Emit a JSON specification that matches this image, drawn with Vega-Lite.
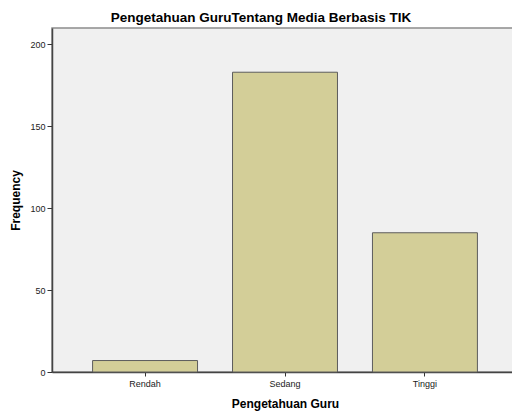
{
  "$schema": "https://vega.github.io/schema/vega-lite/v6.json",
  "autosize": {"type": "none"},
  "padding": {"left": 52, "top": 28, "right": 0, "bottom": 42},
  "width": 466,
  "height": 344,
  "background": "white",
  "title": {
    "text": "Pengetahuan GuruTentang Media Berbasis TIK",
    "font": "Liberation Sans",
    "fontSize": 13.5,
    "fontWeight": "bold",
    "color": "#000000",
    "anchor": "middle",
    "dx": -24,
    "offset": 4
  },
  "config": {
    "view": {"fill": "#f0f0f0", "stroke": "#8c8c8c", "strokeWidth": 1.5},
    "axis": {"labelFont": "Liberation Sans", "titleFont": "Liberation Sans", "grid": false}
  },
  "data": {
    "values": [
      {"kategori": "Rendah", "frekuensi": 7},
      {"kategori": "Sedang", "frekuensi": 183},
      {"kategori": "Tinggi", "frekuensi": 85}
    ]
  },
  "mark": {"type": "bar", "fill": "#d3ce98", "stroke": "#5c5c5c", "strokeWidth": 1},
  "encoding": {
    "x": {
      "field": "kategori",
      "type": "nominal",
      "sort": ["Rendah", "Sedang", "Tinggi"],
      "scale": {"paddingInner": 0.25, "paddingOuter": 0.29},
      "axis": {
        "title": "Pengetahuan Guru",
        "titleFontSize": 12,
        "titleFontWeight": "bold",
        "titleColor": "#000000",
        "titlePadding": 10,
        "labelAngle": 0,
        "labelFontSize": 9,
        "labelColor": "#222222",
        "labelPadding": 3,
        "tickSize": 4,
        "tickColor": "#333333",
        "domainColor": "#444444",
        "domainWidth": 1.5
      }
    },
    "y": {
      "field": "frekuensi",
      "type": "quantitative",
      "scale": {"domain": [0, 210], "nice": false},
      "axis": {
        "title": "Frequency",
        "values": [0, 50, 100, 150, 200],
        "titleFontSize": 12,
        "titleFontWeight": "bold",
        "titleColor": "#000000",
        "titlePadding": 7,
        "labelFontSize": 9,
        "labelColor": "#222222",
        "labelPadding": 2,
        "tickSize": 5,
        "tickColor": "#333333",
        "domainColor": "#444444",
        "domainWidth": 1.5
      }
    }
  }
}
